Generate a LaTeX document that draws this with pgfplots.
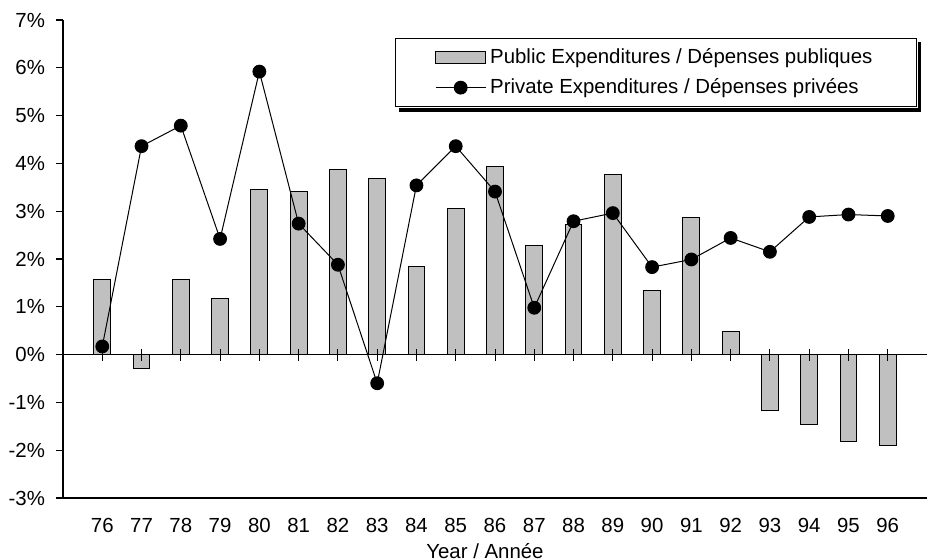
\documentclass[border=0pt]{standalone}
\usepackage{fontspec}
\setmainfont{Liberation Sans}
\usepackage{pgfplots}
\usepackage{pgfplotstable}
\pgfplotsset{compat=1.18}
\usetikzlibrary{calc}
\definecolor{barfill}{RGB}{192,192,192}

\pgfplotsset{
  barlegend/.style={legend image code/.code={\draw[fill=barfill, draw=black, line width=0.5pt] (0pt,-3pt) rectangle (25pt,3pt);}},
  linelegend/.style={legend image code/.code={\draw[black, line width=0.5pt] (0pt,0pt) -- (25pt,0pt); \fill[black] (12.5pt,0pt) circle (3.2pt);}},
}

\pgfplotstableread{
year val
76 1.58
77 -0.29
78 1.58
79 1.18
80 3.45
81 3.42
82 3.87
83 3.69
84 1.85
85 3.05
86 3.93
87 2.28
88 2.73
89 3.77
90 1.34
91 2.87
92 0.48
93 -1.17
94 -1.47
95 -1.81
96 -1.91
}\publicdata

\pgfplotstableread{
year val
76 0.17
77 4.36
78 4.79
79 2.42
80 5.92
81 2.74
82 1.88
83 -0.60
84 3.54
85 4.36
86 3.41
87 0.98
88 2.79
89 2.96
90 1.83
91 1.99
92 2.44
93 2.15
94 2.88
95 2.93
96 2.90
}\privatedata

\begin{document}
\begin{tikzpicture}[font=\fontsize{10.2}{12}\selectfont]
\begin{axis}[
  name=ax,
  scale only axis,
  width=432pt, height=239pt,
  xmin=75, xmax=97,
  ymin=-3, ymax=7,
  axis x line*=bottom,
  axis y line*=left,
  axis line style={-, line width=0.6pt},
  /pgf/number format/assume math mode=true,
  xtick={76,...,96},
  xticklabels={76,77,78,79,80,81,82,83,84,85,86,87,88,89,90,91,92,93,94,95,96},
  x tick style={draw=none},
  xticklabel style={yshift=-3pt},
  ytick={-3,...,7},
  yticklabels={-3\%,-2\%,-1\%,0\%,1\%,2\%,3\%,4\%,5\%,6\%,7\%},
  y tick style={line width=0.6pt, black},
  tick align=outside,
  major tick length=3.5pt,
  yticklabel style={xshift=-2pt},
  xlabel={Year / Année},
  xlabel style={yshift=1.5pt, xshift=-5pt},
  legend style={
    name=leg,
    at={(0.9884,0.9623)}, anchor=north east,
    draw=black, line width=0.6pt, fill=white,
    inner xsep=20pt, inner ysep=3pt,
    row sep=2pt,
    nodes={inner xsep=2pt},
    cells={anchor=west},
    font=\fontsize{10.2}{12}\selectfont,
  },
  legend cell align=left,
]
\addplot[ybar, bar width=0.43, fill=barfill, draw=black, line width=0.5pt, barlegend]
  table[x=year, y=val] {\publicdata};
\addlegendentry{Public Expenditures / Dépenses publiques}
\addplot[black, line width=0.5pt, mark=*, mark size=3.2pt, mark options={fill=black}, linelegend]
  table[x=year, y=val] {\privatedata};
\addlegendentry{Private Expenditures / Dépenses privées}
\end{axis}
\begin{axis}[
  scale only axis,
  width=432pt, height=239pt,
  xmin=75, xmax=97,
  ymin=-3, ymax=7,
  axis x line=middle,
  axis y line=none,
  axis line style={-, line width=0.6pt},
  xtick={76,...,96},
  xticklabels={},
  ytick=\empty,
  tick align=center,
  major tick length=6pt,
  x tick style={line width=0.5pt, black},
]
\addplot[draw=none, forget plot] coordinates {(76,0) (96,0)};
\end{axis}
\fill[black] ($(leg.south west)+(2pt,-2.2pt)$) rectangle ($(leg.south east)+(2.2pt,-0.3pt)$);
\fill[black] ($(leg.north east)+(0.3pt,-2pt)$) rectangle ($(leg.south east)+(2.2pt,-2.2pt)$);
\pgfresetboundingbox
\path[use as bounding box] ($(ax.south west)+(-31.5pt,-31pt)$) rectangle ($(ax.north east)+(0pt,10pt)$);
\end{tikzpicture}
\end{document}
